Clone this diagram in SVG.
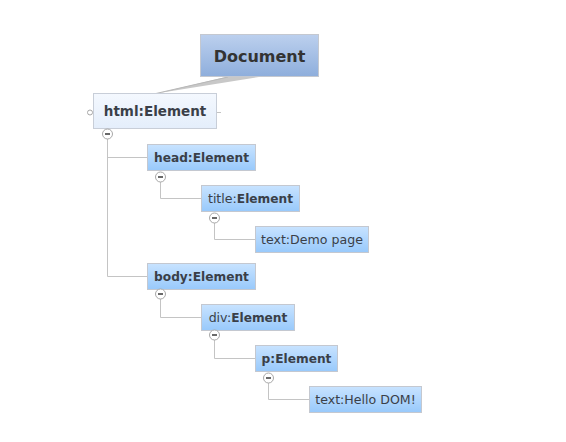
<svg xmlns="http://www.w3.org/2000/svg" width="566" height="442" viewBox="0 0 566 442">
<defs>
<linearGradient id="gDoc" x1="0" y1="0" x2="0" y2="1"><stop offset="0" stop-color="#bcd0ee"/><stop offset="1" stop-color="#8eaedc"/></linearGradient>
<linearGradient id="gEl" x1="0" y1="0" x2="0" y2="1"><stop offset="0" stop-color="#c8e3ff"/><stop offset="1" stop-color="#98c9fb"/></linearGradient>
<linearGradient id="gHtml" x1="0" y1="0" x2="0" y2="1"><stop offset="0" stop-color="#f4f8fe"/><stop offset="1" stop-color="#e4eefb"/></linearGradient>
</defs>
<style>
.box{fill:url(#gEl);stroke:#c4c8d0;stroke-width:1}
.t{font-family:"DejaVu Sans",Verdana,sans-serif;font-size:12.6px;fill:#3a3f48;text-anchor:middle}
.b{font-weight:bold;font-size:12.2px}
.ln{fill:none;stroke:#c4c4c4;stroke-width:1}
.cc{fill:#fff;stroke:#a8a8a8;stroke-width:1}
.mn{stroke:#444;stroke-width:1.6}
</style>
<rect width="566" height="442" fill="#fff"/>
<g id="connectors">
<polygon points="156,93.5 228,76.5 262,76.5" fill="#c8c8c8"/>
<line x1="156" y1="93.5" x2="228" y2="77" stroke="#b8b8b8" stroke-width="1"/>
<path class="ln" d="M107.5,139 V276.5 H147 M107.5,157.5 H147"/>
<path class="ln" d="M160.5,182 V198.5 H201"/>
<path class="ln" d="M214.5,223 V239.5 H255"/>
<path class="ln" d="M160.5,299 V317.5 H201"/>
<path class="ln" d="M214.5,340 V358.5 H255"/>
<path class="ln" d="M268.5,383 V399.5 H309"/>
<line x1="217" y1="112.5" x2="221" y2="112.5" stroke="#c4c4c4"/>
</g>
<g id="document">
<rect x="200.5" y="34.5" width="118" height="42" fill="url(#gDoc)" stroke="#c4c8d0"/>
<text x="259.5" y="61.5" class="t b" style="font-size:16px;fill:#333">Document</text>
</g>
<g id="html">
<rect x="93.5" y="93.5" width="123" height="35" fill="url(#gHtml)" stroke="#c8ced8"/>
<text x="155" y="116" class="t b" style="font-size:13.5px">html:Element</text>
<circle cx="90" cy="112.5" r="2.5" class="cc"/>
<circle cx="107.5" cy="134" r="5" class="cc"/><line x1="105" y1="134" x2="110" y2="134" class="mn"/>
</g>
<g id="head">
<rect x="147.5" y="144.5" width="108" height="26" class="box"/>
<text x="201.5" y="162" class="t b">head:Element</text>
<circle cx="160.5" cy="177" r="5" class="cc"/><line x1="158" y1="177" x2="163" y2="177" class="mn"/>
</g>
<g id="title">
<rect x="201.5" y="185.5" width="98" height="26" class="box"/>
<text x="250.5" y="203" class="t">title:<tspan class="b">Element</tspan></text>
<circle cx="214.5" cy="218" r="5" class="cc"/><line x1="212" y1="218" x2="217" y2="218" class="mn"/>
</g>
<g id="text-demo">
<rect x="255.5" y="226.5" width="113" height="26" class="box"/>
<text x="312" y="244" class="t">text:Demo page</text>
</g>
<g id="body">
<rect x="147.5" y="263.5" width="108" height="26" class="box"/>
<text x="201.5" y="281" class="t b">body:Element</text>
<circle cx="160.5" cy="294" r="5" class="cc"/><line x1="158" y1="294" x2="163" y2="294" class="mn"/>
</g>
<g id="div">
<rect x="201.5" y="304.5" width="93" height="26" class="box"/>
<text x="248" y="322" class="t">div:<tspan class="b">Element</tspan></text>
<circle cx="214.5" cy="335" r="5" class="cc"/><line x1="212" y1="335" x2="217" y2="335" class="mn"/>
</g>
<g id="p">
<rect x="255.5" y="345.5" width="82" height="26" class="box"/>
<text x="296.5" y="363" class="t b">p:Element</text>
<circle cx="268.5" cy="378" r="5" class="cc"/><line x1="266" y1="378" x2="271" y2="378" class="mn"/>
</g>
<g id="text-hello">
<rect x="309.5" y="386.5" width="112" height="26" class="box"/>
<text x="365.5" y="404" class="t">text:Hello DOM!</text>
</g>
</svg>
